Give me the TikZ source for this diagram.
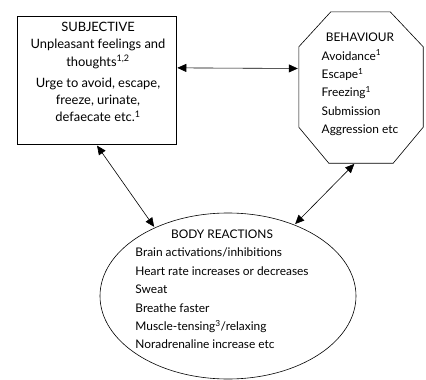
\documentclass[tikz,border=0pt]{standalone}
\usepackage{fontspec}
\setmainfont{Lato}
\usetikzlibrary{arrows.meta,shapes.geometric}

\begin{document}
\begin{tikzpicture}[x=1pt,y=-1pt]
\tikzstyle{lien}=[{Triangle[length=9pt,width=8pt]}-{Triangle[length=9pt,width=8pt]},semithick,shorten <=1pt,shorten >=1pt]
\tikzset{forme/.style={draw,semithick,inner sep=0pt},
texte/.style={font=\fontsize{11.9}{18.4}\selectfont,inner sep=0pt}}
\useasboundingbox (0,0) rectangle (426,380);

% les trois formes
\node[forme,rectangle,minimum width=159pt,minimum height=128pt] (subj) at (96.5,80.5) {};
\node[rectangle,inner sep=0pt,minimum width=124pt,minimum height=151pt] (beh) at (361,87.5) {};
\draw[semithick] ([xshift=32pt]beh.north west) -- ([xshift=-33pt]beh.north east)
  -- ([yshift=-35pt]beh.north east) -- ([yshift=36pt]beh.south east)
  -- ([xshift=-30pt]beh.south east) -- ([xshift=30pt]beh.south west)
  -- ([yshift=36pt]beh.south west) -- ([yshift=-35pt]beh.north west) -- cycle;
\node[forme,ellipse,minimum width=256pt,minimum height=166pt] (body) at (228,296) {};

% les textes
\node[texte,font=\fontsize{12.9}{17.2}\selectfont,align=center] (subjtxt) at (98,72) {SUBJECTIVE\\
Unpleasant feelings and\\
thoughts\textsuperscript{1,2}\\[4pt]
Urge to avoid, escape,\\
freeze, urinate,\\
defaecate etc.\textsuperscript{1}};
\node[texte] (behtxt) at (360,84) {\begin{tabular}{@{}l@{}}
\multicolumn{1}{@{}c@{}}{BEHAVIOUR}\\
Avoidance\textsuperscript{1}\\
Escape\textsuperscript{1}\\
Freezing\textsuperscript{1}\\
Submission\\
Aggression etc
\end{tabular}};
\node[texte] (bodytxt) at (222,290) {\begin{tabular}{@{}l@{}}
\multicolumn{1}{@{}c@{}}{BODY REACTIONS}\\
Brain activations/inhibitions\\
Heart rate increases or decreases\\
Sweat\\
Breathe faster\\
Muscle-tensing\textsuperscript{3}/relaxing\\
Noradrenaline increase etc
\end{tabular}};

\draw[lien] (subj.9) -- (beh.163);
\draw[lien] (subj.south) -- (body.137);
\draw[lien] ([xshift=-6pt]beh.south) -- (body.47.5);

\end{tikzpicture}
\end{document}
